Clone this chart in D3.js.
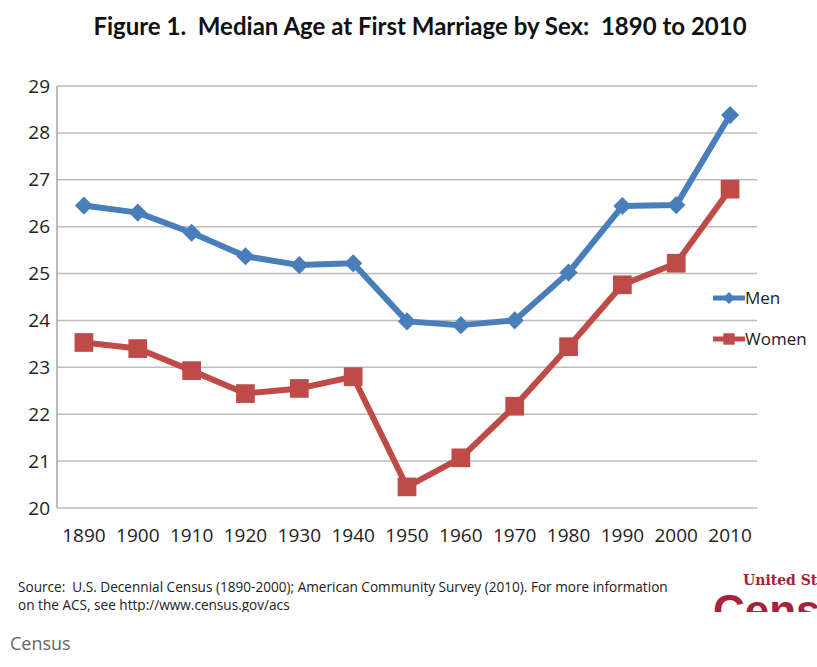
<!DOCTYPE html>
<html>
<head>
<meta charset="utf-8">
<script src="https://cdn.jsdelivr.net/npm/d3@7"></script>
<style>
  body { margin: 0; background: #fff; }
  svg { display: block; }
  text { white-space: pre; }
</style>
</head>
<body>
<div id="chart"></div>
<script>
// values
const years = ["1890", "1900", "1910", "1920", "1930", "1940", "1950", "1960", "1970", "1980", "1990", "2000", "2010"];
const men = [26.45, 26.3, 25.87, 25.37, 25.18, 25.22, 23.98, 23.9, 24.0, 25.02, 26.44, 26.46, 28.38];
const women = [23.53, 23.4, 22.93, 22.44, 22.55, 22.8, 20.45, 21.07, 22.17, 23.44, 24.76, 25.22, 26.8];
const yTicks = [20, 21, 22, 23, 24, 25, 26, 27, 28, 29];

const width = 817, height = 667;
const margin = {top: 86, right: 60, bottom: 159, left: 57};
const innerW = 757 - margin.left;
const innerH = 508 - margin.top;

const svg = d3.select("#chart").append("svg")
    .attr("width", width)
    .attr("height", height);

const x = d3.scaleBand().domain(years).range([0, innerW]);
const y = d3.scaleLinear().domain([20, 29]).range([innerH, 0]);

const g = svg.append("g").attr("transform", `translate(${margin.left},${margin.top})`);

// title
svg.append("text")
    .attr("x", 420).attr("y", 35)
    .attr("text-anchor", "middle")
    .style("font-family", "Lato, 'Open Sans', sans-serif")
    .style("font-weight", "bold")
    .style("font-size", "24px")
    .attr("fill", "#111")
    .text("Figure 1.  Median Age at First Marriage by Sex:  1890 to 2010");

// gridlines
g.selectAll(".grid").data(yTicks).enter()
    .append("line")
    .attr("class", "grid")
    .attr("x1", 0).attr("x2", innerW)
    .attr("y1", d => y(d)).attr("y2", d => y(d))
    .attr("stroke", "#bdbdbd")
    .attr("stroke-width", 1.5);

// axis line
g.append("line")
    .attr("x1", 0).attr("x2", 0)
    .attr("y1", 0).attr("y2", innerH)
    .attr("stroke", "#a6a6a6").attr("stroke-width", 1.5);

// y axis labels
const yAxis = g.append("g")
    .call(d3.axisLeft(y).tickValues(yTicks).tickSize(0).tickPadding(7));
yAxis.select(".domain").remove();
yAxis.selectAll("text")
    .style("font-family", "'Open Sans', sans-serif")
    .style("font-size", "19px")
    .attr("fill", "#222");

// x axis labels
const xAxis = g.append("g")
    .attr("transform", `translate(0,${innerH})`)
    .call(d3.axisBottom(x).tickSize(0).tickPadding(21));
xAxis.select(".domain").remove();
xAxis.selectAll("text")
    .style("font-family", "'Open Sans', sans-serif")
    .style("font-size", "19px")
    .attr("fill", "#222");

const cx = d => x(d) + x.bandwidth() / 2;

const blue = "#4a7ebb", red = "#be4b48";

const line = d3.line()
    .x((d, i) => cx(years[i]))
    .y(d => y(d));

g.append("path").datum(men)
    .attr("d", line)
    .attr("fill", "none").attr("stroke", blue)
    .attr("stroke-width", 6).attr("stroke-linejoin", "round");

g.append("path").datum(women)
    .attr("d", line)
    .attr("fill", "none").attr("stroke", red)
    .attr("stroke-width", 6).attr("stroke-linejoin", "round");

const diamond = d3.symbol().type(d3.symbolDiamond2).size(210);
const square = d3.symbol().type(d3.symbolSquare).size(350);

g.selectAll(".menDot").data(men).enter()
    .append("path")
    .attr("class", "menDot")
    .attr("d", diamond)
    .attr("transform", (d, i) => `translate(${cx(years[i])},${y(d)})`)
    .attr("fill", blue);

g.selectAll(".womenDot").data(women).enter()
    .append("path")
    .attr("class", "womenDot")
    .attr("d", square)
    .attr("transform", (d, i) => `translate(${cx(years[i])},${y(d)})`)
    .attr("fill", red);

// legend
const legend = [
    {name: "Men", color: blue, sym: d3.symbol().type(d3.symbolDiamond2).size(90), yy: 298},
    {name: "Women", color: red, sym: d3.symbol().type(d3.symbolSquare).size(130), yy: 339}
];
const lg = svg.selectAll(".legend").data(legend).enter()
    .append("g").attr("class", "legend")
    .attr("transform", d => `translate(713,${d.yy})`);
lg.append("line")
    .attr("x1", 0).attr("x2", 32)
    .attr("stroke", d => d.color).attr("stroke-width", 5);
lg.append("path")
    .attr("d", d => d.sym())
    .attr("transform", "translate(16,0)")
    .attr("fill", d => d.color);
lg.append("text")
    .attr("x", 32).attr("y", 6)
    .style("font-family", "'Open Sans', sans-serif")
    .style("font-size", "17px")
    .attr("fill", "#222")
    .text(d => d.name);

// footer, clipped where the source image ends
svg.append("clipPath").attr("id", "cut")
    .append("rect").attr("x", 0).attr("y", 0).attr("width", width).attr("height", 612);

const foot = svg.append("g").attr("clip-path", "url(#cut)");
foot.append("text")
    .attr("x", 18).attr("y", 592)
    .style("font-family", "'Open Sans', sans-serif")
    .style("font-size", "13.6px")
    .attr("fill", "#222")
    .text("Source:  U.S. Decennial Census (1890-2000); American Community Survey (2010). For more information");
foot.append("text")
    .attr("x", 18).attr("y", 610)
    .style("font-family", "'Open Sans', sans-serif")
    .style("font-size", "13.6px")
    .attr("fill", "#222")
    .text("on the ACS, see http://www.census.gov/acs");
foot.append("text")
    .attr("x", 743).attr("y", 585)
    .style("font-family", "'DejaVu Serif', serif")
    .style("font-weight", "bold")
    .style("font-size", "14px")
    .attr("fill", "#a8203a")
    .text("United States");
foot.append("text")
    .attr("x", 713).attr("y", 626)
    .style("font-family", "'Liberation Sans', sans-serif")
    .style("font-weight", "bold")
    .style("font-size", "44px")
    .attr("fill", "#a8203a")
    .text("Census");

svg.append("text")
    .attr("x", 10).attr("y", 650)
    .style("font-family", "'Open Sans', sans-serif")
    .style("font-size", "18px")
    .attr("fill", "#666")
    .text("Census");
</script>
</body>
</html>
